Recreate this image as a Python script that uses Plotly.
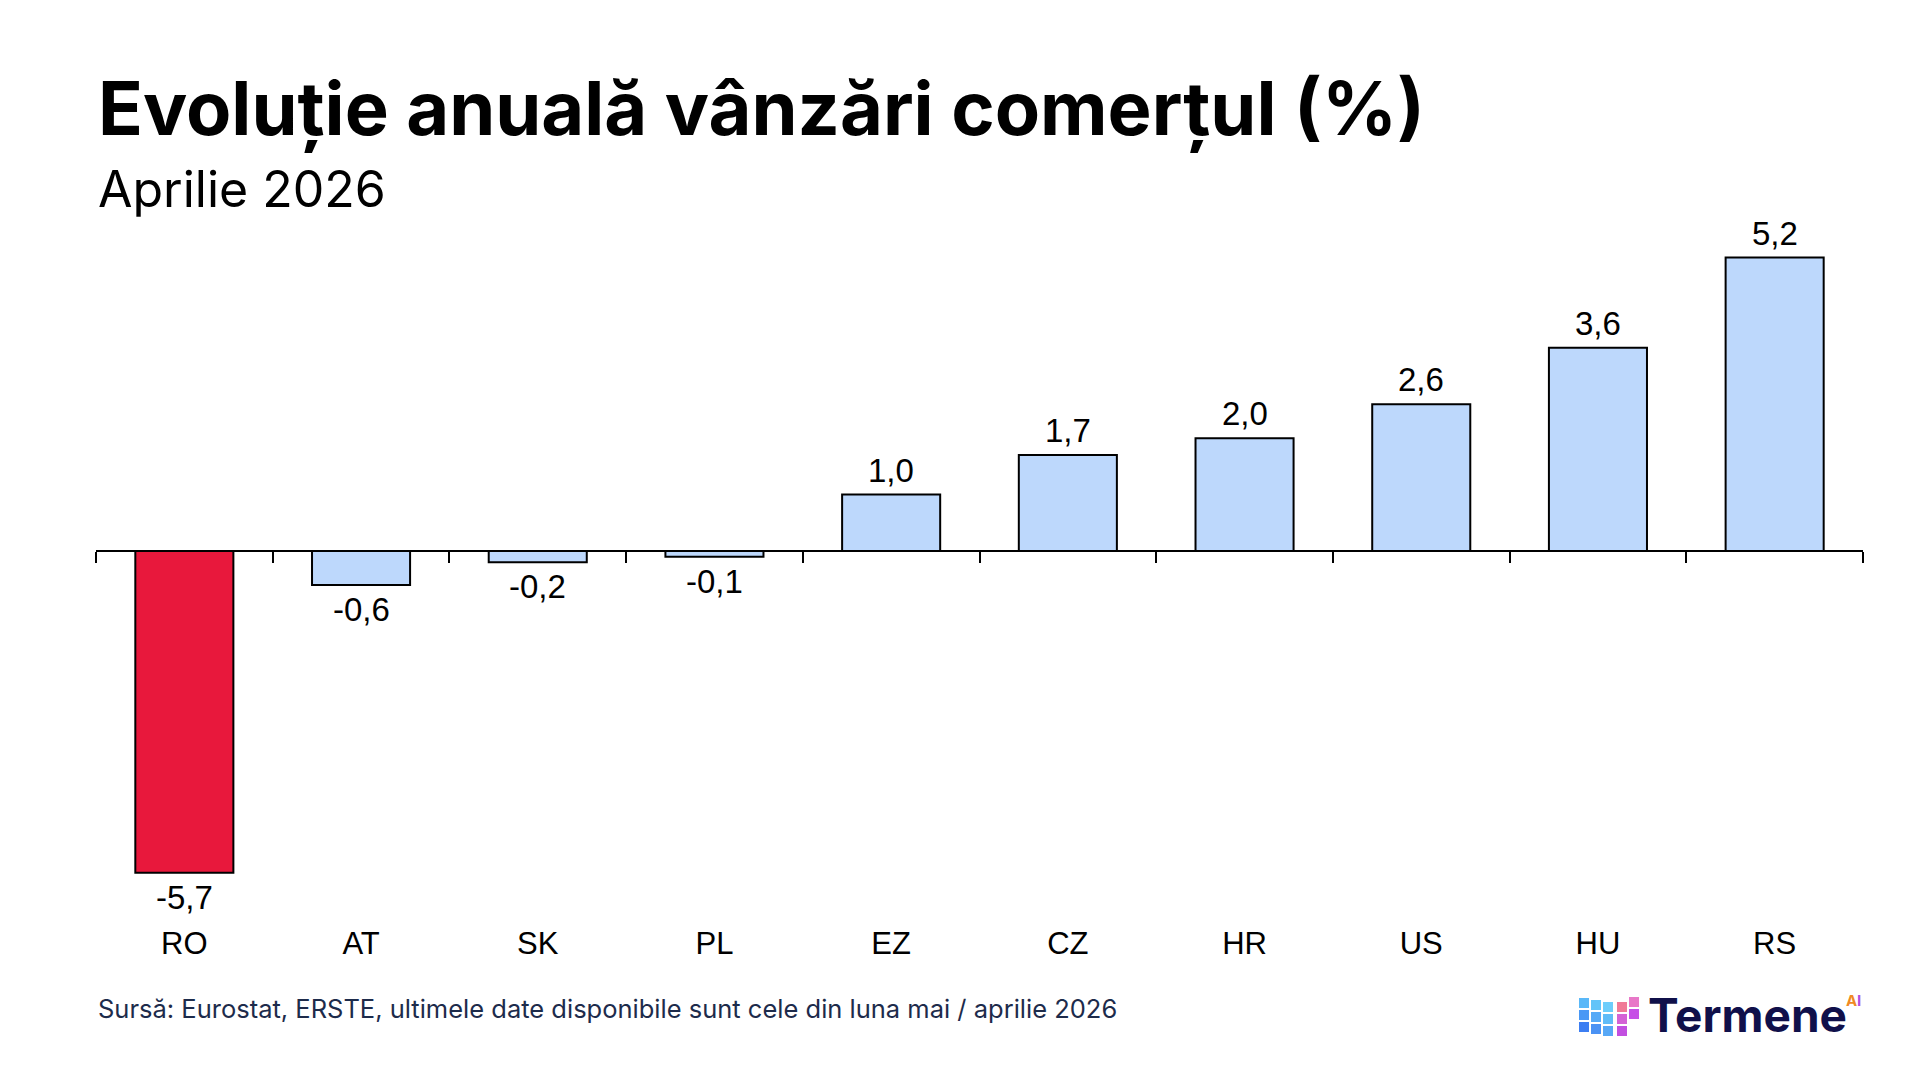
import plotly.graph_objects as go

# Data
countries = ["RO", "AT", "SK", "PL", "EZ", "CZ", "HR", "US", "HU", "RS"]
values = [-5.7, -0.6, -0.2, -0.1, 1.0, 1.7, 2.0, 2.6, 3.6, 5.2]
highlight = "RO"

title = "Evoluție anuală vânzări comerțul (%)"
subtitle = "Aprilie 2026"
source = "Sursă: Eurostat, ERSTE, ultimele date disponibile sunt cele din luna mai / aprilie 2026"

# Page geometry (pixels) used to place the decorations
W, H = 1920, 1080
ML, MR, MT, MB = 88, 65, 210, 170
PW, PH = W - ML - MR, H - MT - MB
Y_RANGE = [-6.5, 5.9]


def px(x):
    return (x - ML) / PW


def py(y):
    return (H - MB - y) / PH


colors = ["#e8183c" if c == highlight else "#bdd8fc" for c in countries]
labels = [f"{v:.1f}".replace(".", ",") for v in values]

fig = go.Figure()

fig.add_trace(go.Bar(
    x=countries,
    y=values,
    marker=dict(color=colors, line=dict(color="black", width=2)),
    hoverinfo="x+y",
    showlegend=False,
))

# invisible trace that carries the zero-line axis with boundary ticks
fig.add_trace(go.Scatter(
    x=countries,
    y=[0] * len(countries),
    xaxis="x2",
    mode="none",
    hoverinfo="skip",
    showlegend=False,
))

zero_pos = (0 - Y_RANGE[0]) / (Y_RANGE[1] - Y_RANGE[0])

fig.update_layout(
    width=W,
    height=H,
    margin=dict(l=ML, r=MR, t=MT, b=MB),
    plot_bgcolor="white",
    paper_bgcolor="white",
    bargap=0.445,
    xaxis=dict(
        type="category",
        categoryorder="array",
        categoryarray=countries,
        range=[-0.5, len(countries) - 0.5],
        showline=False,
        showgrid=False,
        zeroline=False,
        ticks="",
        ticklabelstandoff=4,
        tickfont=dict(family="Liberation Sans, Arial, sans-serif", size=31, color="black"),
    ),
    xaxis2=dict(
        type="category",
        categoryorder="array",
        categoryarray=countries,
        range=[-0.5, len(countries) - 0.5],
        overlaying="x",
        anchor="free",
        position=zero_pos,
        side="bottom",
        showline=True,
        linecolor="black",
        linewidth=1.5,
        showgrid=False,
        zeroline=False,
        ticks="outside",
        tickson="boundaries",
        ticklen=11,
        tickwidth=1.5,
        tickcolor="black",
        showticklabels=False,
    ),
    yaxis=dict(
        range=Y_RANGE,
        visible=False,
        showgrid=False,
        zeroline=False,
    ),
)

# value labels above / below the bars
annotations = []
for c, v, t in zip(countries, values, labels):
    annotations.append(dict(
        x=c, y=v, xref="x", yref="y", text=t, showarrow=False,
        yanchor="bottom" if v >= 0 else "top",
        yshift=4 if v >= 0 else -4,
        font=dict(family="Liberation Sans, Arial, sans-serif", size=33, color="black"),
    ))

deco = [
    dict(text=f"<b>{title}</b>", x=px(88), y=py(100), xanchor="left", yanchor="middle",
         font=dict(family="Inter, sans-serif", size=74, color="black")),
    dict(text=subtitle, x=px(88), y=py(181), xanchor="left", yanchor="middle",
         font=dict(family="Inter, sans-serif", size=50, color="black")),
    dict(text=source, x=px(88), y=py(1001), xanchor="left", yanchor="middle",
         font=dict(family="Inter, sans-serif", size=25.5, color="#1d2b4b")),
    dict(text="<b>Termene</b>", x=px(1638), y=py(1007), xanchor="left", yanchor="middle",
         font=dict(family="Inter, sans-serif", size=46, color="#10104a")),
    dict(text="<b>A</b>", x=px(1836), y=py(992), xanchor="left", yanchor="middle",
         font=dict(family="Inter, sans-serif", size=15, color="#f08a24")),
    dict(text="<b>I</b>", x=px(1847), y=py(992), xanchor="left", yanchor="middle",
         font=dict(family="Inter, sans-serif", size=15, color="#b04fe0")),
]
for a in deco:
    a.update(xref="paper", yref="paper", showarrow=False)
fig.update_layout(annotations=annotations + deco)

# Termene cube logo built from small squares
blues = [["#5ab8f8", "#62c4f9", "#6ccdfb"],
         ["#4a98f5", "#56aaf7", "#60bcf8"],
         ["#3d7ef2", "#4a92f4", "#58a8f6"]]
shapes = []
size, step = 10, 12
for r in range(3):
    for c in range(3):
        x0 = 1571 + c * step
        y0 = 990 + r * step + c * 2
        shapes.append(dict(type="rect", xref="paper", yref="paper",
                           x0=px(x0), x1=px(x0 + size), y0=py(y0), y1=py(y0 + size),
                           fillcolor=blues[r][c], line=dict(width=0), layer="above"))
pinks = [["#f07a98", "#e878c8"], ["#d462d6", "#c650e6"], ["#c24fe0", None]]
for r in range(3):
    for c in range(2):
        col = pinks[r][c]
        if col is None:
            continue
        x0 = 1609 + c * step
        y0 = 994 + r * step - c * 5
        shapes.append(dict(type="rect", xref="paper", yref="paper",
                           x0=px(x0), x1=px(x0 + size), y0=py(y0), y1=py(y0 + size),
                           fillcolor=col, line=dict(width=0), layer="above"))
fig.update_layout(shapes=shapes)

fig.write_html("out.html")
